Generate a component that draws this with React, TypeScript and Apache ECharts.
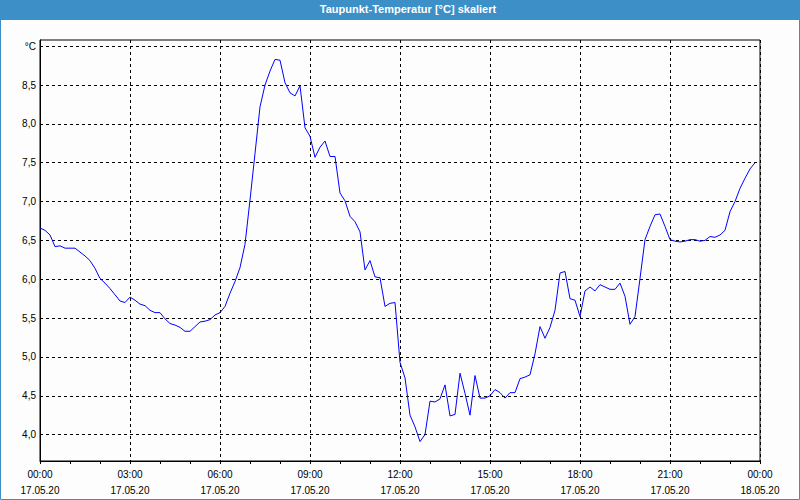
import React, { useEffect, useRef } from "react";
import * as echarts from "echarts";

const TITLE = "Taupunkt-Temperatur [°C] skaliert";
// minutes since 17.05.20 00:00, 10-minute steps
const STEP_MIN = 10;
const VALUES: number[] = [
  6.66, 6.63, 6.57, 6.42, 6.43, 6.40, 6.40, 6.40, 6.35, 6.30,
  6.24, 6.14, 6.01, 5.95, 5.88, 5.80, 5.72, 5.70, 5.77, 5.73,
  5.68, 5.66, 5.60, 5.57, 5.57, 5.49, 5.43, 5.41, 5.38, 5.33,
  5.33, 5.39, 5.45, 5.46, 5.48, 5.54, 5.57, 5.65, 5.82, 5.97,
  6.15, 6.45, 7.02, 7.62, 8.22, 8.50, 8.68, 8.83, 8.82, 8.53,
  8.40, 8.36, 8.49, 7.95, 7.84, 7.57, 7.70, 7.78, 7.58, 7.58,
  7.11, 7.01, 6.81, 6.74, 6.61, 6.12, 6.24, 6.03, 6.02, 5.65,
  5.69, 5.70, 4.93, 4.73, 4.25, 4.10, 3.91, 4.00, 4.43, 4.42,
  4.46, 4.64, 4.24, 4.26, 4.79, 4.53, 4.25, 4.76, 4.47, 4.47,
  4.50, 4.58, 4.54, 4.47, 4.54, 4.54, 4.72, 4.74, 4.77, 5.04,
  5.39, 5.24, 5.38, 5.60, 6.08, 6.10, 5.75, 5.73, 5.52, 5.85,
  5.90, 5.85, 5.93, 5.90, 5.87, 5.87, 5.95, 5.78, 5.42, 5.52,
  6.01, 6.51, 6.68, 6.83, 6.84, 6.68, 6.51, 6.49, 6.48, 6.49,
  6.51, 6.51, 6.49, 6.50, 6.55, 6.54, 6.57, 6.63, 6.87, 7.00,
  7.17, 7.30, 7.42, 7.50,
];
const Y_TICKS = [4.0, 4.5, 5.0, 5.5, 6.0, 6.5, 7.0, 7.5, 8.0, 8.5, 9.0];
const Y_UNIT = "°C";
const DATE_1 = "17.05.20";
const DATE_2 = "18.05.20";

const FONT = "'Liberation Sans', Arial, sans-serif";
const BLUE = "#3d8fc7";

export default function App() {
  const ref = useRef<HTMLDivElement>(null);
  useEffect(() => {
    if (!ref.current) return;
    const chart = echarts.init(ref.current, undefined, { renderer: "svg" });
    const data = VALUES.map((v, i) => [i * STEP_MIN, v]);
    chart.setOption({
      animation: false,
      backgroundColor: "#fcfdfc",
      title: {
        text: TITLE,
        left: 408,
        top: 2,
        padding: 0,
        textAlign: "center",
        textStyle: { color: "#ffffff", fontSize: 11, fontWeight: "bold", fontFamily: FONT, lineHeight: 13 },
      },
      graphic: [
        { type: "rect", z: -1, shape: { x: 0, y: 0, width: 800, height: 20 }, style: { fill: BLUE } },
        { type: "rect", z: -1, shape: { x: 0.5, y: 0.5, width: 799, height: 499 }, style: { fill: "none", stroke: BLUE, lineWidth: 1 } },
      ],
      grid: {
        left: 40,
        top: 40,
        width: 720,
        height: 421,
        show: true,
        borderColor: "#000",
        borderWidth: 1,
        backgroundColor: "transparent",
      },
      xAxis: {
        type: "value",
        min: 0,
        max: 1440,
        interval: 180,
        axisLine: { show: true, lineStyle: { color: "#000", width: 1 } },
        axisTick: { show: true, length: 3, lineStyle: { color: "#000" } },
        minorTick: { show: true, splitNumber: 3, length: 3, lineStyle: { color: "#000" } },
        splitLine: { show: true, lineStyle: { color: "#000", type: [3, 3], width: 1 } },
        axisLabel: {
          margin: 5,
          fontSize: 10,
          lineHeight: 16,
          color: "#000",
          fontFamily: FONT,
          formatter: (v: number) => {
            const h = Math.floor(v / 60) % 24;
            const m = v % 60;
            const t = String(h).padStart(2, "0") + ":" + String(m).padStart(2, "0");
            return t + "\n" + (v >= 1440 ? DATE_2 : DATE_1);
          },
        },
      },
      yAxis: {
        type: "value",
        min: 3.66,
        max: 9.08,
        axisLine: { show: true, lineStyle: { color: "#000", width: 1 } },
        axisTick: { show: false, customValues: Y_TICKS },
        splitLine: { show: true, lineStyle: { color: "#000", type: [3, 3], width: 1 } },
        axisLabel: {
          customValues: Y_TICKS,
          margin: 4,
          fontSize: 10,
          color: "#000",
          fontFamily: FONT,
          formatter: (v: number) => (Math.abs(v - 9) < 1e-6 ? Y_UNIT : v.toFixed(1).replace(".", ",")),
        },
      },
      series: [
        {
          type: "line",
          data,
          showSymbol: false,
          symbol: "none",
          lineStyle: { color: "#0000ff", width: 1 },
          itemStyle: { color: "#0000ff" },
        },
      ],
    });
    return () => chart.dispose();
  }, []);
  return <div ref={ref} style={{ position: "absolute", left: 0, top: 0, width: 800, height: 500 }} />;
}
